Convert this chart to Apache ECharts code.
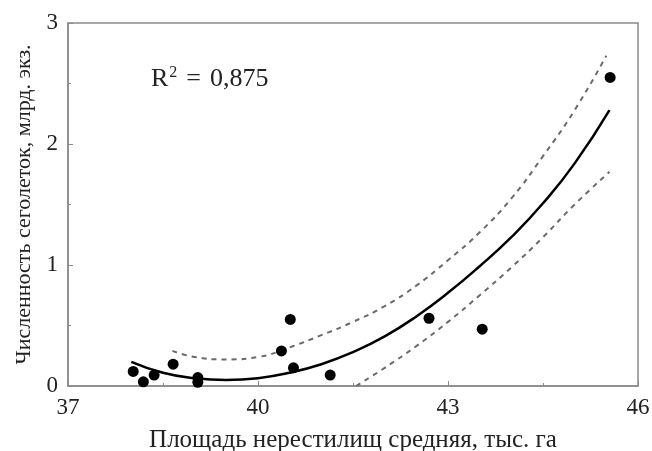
<!DOCTYPE html>
<html>
<head>
<meta charset="utf-8">
<script src="https://cdn.jsdelivr.net/npm/echarts@6/dist/echarts.min.js"></script>
<style>
  html, body { margin: 0; padding: 0; background: #fff; }
  #chart { width: 652px; height: 451px; }
</style>
</head>
<body>
<div id="chart"></div>
<script>
// observed points: area (thousand ha) vs. number of fingerlings (bn)
var pointX = [38.03, 38.19, 38.36, 38.66, 39.05, 39.05, 40.51, 40.37, 40.56, 41.14, 42.70, 43.54, 45.56]
var pointY = [0.12, 0.035, 0.09, 0.18, 0.07, 0.03, 0.55, 0.29, 0.15, 0.09, 0.56, 0.47, 2.55]

// fitted curve
var fitX = [38.0, 38.5, 39.0, 39.5, 40.0, 40.5, 41.0, 41.5, 42.0, 42.5, 43.0, 43.5, 44.0, 44.5, 45.0, 45.55]
var fitY = [0.20, 0.11, 0.065, 0.05, 0.065, 0.11, 0.18, 0.28, 0.41, 0.575, 0.77, 0.99, 1.23, 1.51, 1.84, 2.28]

// confidence band, upper and lower
var upperX = [38.65, 39.0, 39.5, 40.0, 40.5, 41.0, 41.5, 42.0, 42.5, 43.0, 43.5, 44.0, 44.5, 45.0, 45.5]
var upperY = [0.29, 0.24, 0.22, 0.24, 0.32, 0.42, 0.53, 0.66, 0.83, 1.04, 1.27, 1.55, 1.90, 2.28, 2.73]
var lowerX = [41.55, 42.0, 42.5, 43.0, 43.5, 44.0, 44.5, 45.0, 45.55]
var lowerY = [0.0, 0.15, 0.33, 0.53, 0.75, 0.98, 1.23, 1.50, 1.77]

var xTicks = [37, 40, 43, 46]
var yTicks = [0, 1, 2, 3]

var serif = 'Liberation Serif'
var frameColor = '#8a8a8a'

function zip(xs, ys) {
  return xs.map((x, i) => [x, ys[i]])
}

var chart = echarts.init(document.getElementById('chart'))

chart.setOption({
  animation: false,
  grid: {
    left: 68,
    right: 14,
    top: 23,
    bottom: 65,
    outerBoundsMode: 'none',
    show: true,
    borderColor: frameColor,
    borderWidth: 1.5
  },
  xAxis: {
    type: 'value',
    min: xTicks[0],
    max: xTicks[xTicks.length - 1],
    interval: 3,
    name: 'Площадь нерестилищ средняя, тыс. га',
    nameLocation: 'middle',
    nameGap: 42,
    nameTextStyle: { fontFamily: serif, fontSize: 25, color: '#222' },
    axisLine: { lineStyle: { color: frameColor, width: 1.5 } },
    axisTick: { inside: true, length: 5, lineStyle: { color: frameColor } },
    minorTick: { show: true, splitNumber: 2, length: 3, lineStyle: { color: frameColor } },
    splitLine: { show: false },
    axisLabel: { fontFamily: serif, fontSize: 23, color: '#222', margin: 10 }
  },
  yAxis: {
    type: 'value',
    min: yTicks[0],
    max: yTicks[yTicks.length - 1],
    interval: 1,
    name: 'Численность сеголеток, млрд. экз.',
    nameLocation: 'middle',
    nameGap: 25,
    nameTextStyle: { fontFamily: serif, fontSize: 22, color: '#222' },
    axisLine: { show: true, lineStyle: { color: frameColor, width: 1.5 } },
    axisTick: { show: true, inside: true, length: 5, lineStyle: { color: frameColor } },
    minorTick: { show: true, splitNumber: 2, length: 3, lineStyle: { color: frameColor } },
    splitLine: { show: false },
    axisLabel: { fontFamily: serif, fontSize: 23, color: '#222', margin: 10 }
  },
  graphic: [
    {
      type: 'text',
      left: 151,
      top: 65,
      style: {
        text: '{r|R}{s|2}{e|=}{r|0,875}',
        rich: {
          r: { fontFamily: serif, fontSize: 26, fill: '#222' },
          e: { fontFamily: serif, fontSize: 26, fill: '#222', padding: [0, 9, 0, 9] },
          s: { fontFamily: serif, fontSize: 16, fill: '#222', verticalAlign: 'top', padding: [0, 0, 12, 1] }
        }
      }
    }
  ],
  series: [
    {
      type: 'line',
      data: zip(upperX, upperY),
      smooth: true,
      showSymbol: false,
      lineStyle: { color: '#6a6a6a', width: 2, type: [5, 5] },
      z: 2
    },
    {
      type: 'line',
      data: zip(lowerX, lowerY),
      smooth: true,
      showSymbol: false,
      lineStyle: { color: '#6a6a6a', width: 2, type: [5, 5] },
      z: 2
    },
    {
      type: 'line',
      data: zip(fitX, fitY),
      smooth: true,
      showSymbol: false,
      lineStyle: { color: '#000', width: 2.5 },
      z: 3
    },
    {
      type: 'scatter',
      data: zip(pointX, pointY),
      symbolSize: 11,
      itemStyle: { color: '#000', opacity: 1 },
      z: 4
    }
  ]
})
</script>
</body>
</html>
